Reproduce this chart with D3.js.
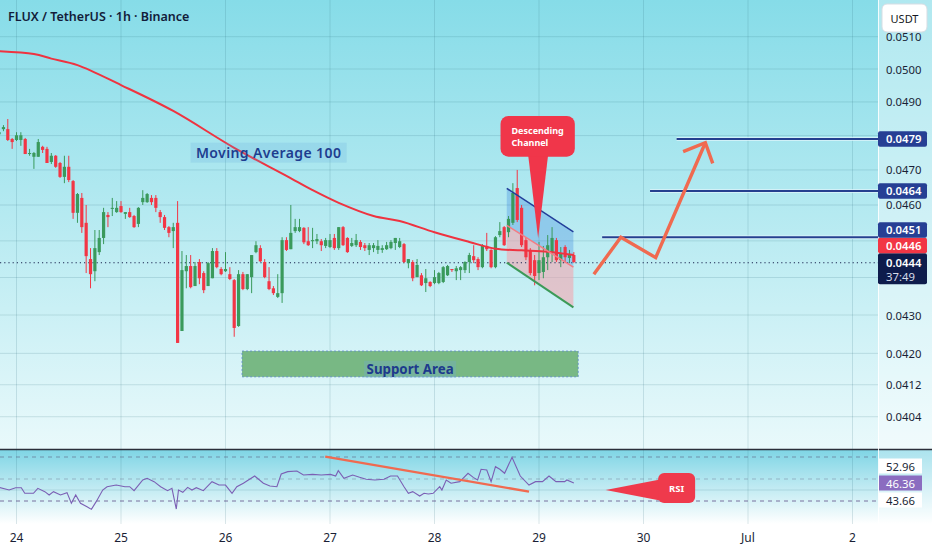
<!DOCTYPE html>
<html><head><meta charset="utf-8">
<script src="https://cdn.jsdelivr.net/npm/d3@7"></script>
<style>html,body{margin:0;padding:0;background:#fff;overflow:hidden}svg{display:block;font-family:"Noto Sans",Roboto,sans-serif}</style>
</head><body><svg id="c" width="932" height="550"></svg>
<script>
// ---------- DATA ----------
const title = "FLUX / TetherUS · 1h · Binance";
const currency = "USDT";
const dayTicks = [0, 24, 48, 72, 96, 120, 144, 168, 192]; // hours since 24 Jun 00:00
const dayLabels = ["24", "25", "26", "27", "28", "29", "30", "Jul", "2"];
const priceTicks = [0.0510, 0.0500, 0.0490, 0.0480, 0.0470, 0.0460, 0.0450, 0.0440, 0.0430, 0.0420, 0.0412, 0.0404];
const firstCandleHour = -4;
// [open, high, low, close], hourly
const candles = [
[0.04804,0.04813,0.04801,0.04810],[0.04819,0.04831,0.04813,0.04825],[0.04819,0.04849,0.04784,0.04787],[0.04790,0.04793,0.04761,0.04781],
[0.04787,0.04810,0.04784,0.04801],[0.04787,0.04810,0.04770,0.04801],[0.04790,0.04793,0.04746,0.04746],[0.04746,0.04761,0.04741,0.04749],
[0.04738,0.04752,0.04703,0.04749],[0.04738,0.04790,0.04738,0.04781],[0.04767,0.04770,0.04749,0.04758],[0.04761,0.04767,0.04720,0.04720],
[0.04723,0.04749,0.04717,0.04741],[0.04741,0.04743,0.04706,0.04709],[0.04720,0.04723,0.04677,0.04680],[0.04680,0.04741,0.04662,0.04709],
[0.04709,0.04741,0.04665,0.04671],[0.04668,0.04671,0.04561,0.04578],[0.04578,0.04634,0.04550,0.04631],[0.04620,0.04634,0.04522,0.04538],
[0.04550,0.04600,0.04412,0.04458],[0.04450,0.04480,0.04371,0.04409],[0.04417,0.04530,0.04390,0.04480],[0.04469,0.04530,0.04461,0.04508],
[0.04508,0.04592,0.04491,0.04580],[0.04572,0.04580,0.04538,0.04566],[0.04589,0.04620,0.04569,0.04592],[0.04580,0.04611,0.04578,0.04592],
[0.04597,0.04611,0.04578,0.04580],[0.04575,0.04580,0.04561,0.04580],[0.04580,0.04592,0.04564,0.04566],[0.04569,0.04572,0.04536,0.04538],
[0.04547,0.04594,0.04538,0.04592],[0.04608,0.04642,0.04600,0.04620],[0.04608,0.04634,0.04606,0.04631],[0.04620,0.04628,0.04600,0.04608],
[0.04620,0.04628,0.04580,0.04592],[0.04580,0.04586,0.04550,0.04566],[0.04566,0.04572,0.04530,0.04536],[0.04538,0.04541,0.04510,0.04522],
[0.04527,0.04550,0.04480,0.04538],[0.04550,0.04611,0.04227,0.04227],[0.04258,0.04472,0.04258,0.04420],[0.04417,0.04461,0.04371,0.04431],
[0.04431,0.04461,0.04371,0.04374],[0.04377,0.04442,0.04377,0.04431],[0.04442,0.04450,0.04382,0.04398],[0.04412,0.04417,0.04358,0.04366],
[0.04377,0.04442,0.04377,0.04439],[0.04398,0.04480,0.04398,0.04472],[0.04472,0.04480,0.04425,0.04428],[0.04423,0.04428,0.04406,0.04409],
[0.04417,0.04469,0.04415,0.04423],[0.04409,0.04428,0.04393,0.04396],[0.04393,0.04396,0.04243,0.04266],[0.04271,0.04420,0.04269,0.04409],
[0.04409,0.04415,0.04366,0.04369],[0.04369,0.04409,0.04366,0.04409],[0.04401,0.04461,0.04358,0.04461],[0.04469,0.04499,0.04466,0.04488],
[0.04480,0.04488,0.04442,0.04444],[0.04442,0.04450,0.04398,0.04401],[0.04390,0.04428,0.04366,0.04369],[0.04371,0.04377,0.04353,0.04358],
[0.04348,0.04409,0.04345,0.04358],[0.04358,0.04510,0.04332,0.04502],[0.04502,0.04510,0.04472,0.04475],[0.04477,0.04600,0.04477,0.04522],
[0.04527,0.04561,0.04522,0.04538],[0.04527,0.04561,0.04524,0.04538],[0.04536,0.04538,0.04491,0.04496],[0.04499,0.04538,0.04486,0.04488],
[0.04499,0.04536,0.04480,0.04502],[0.04499,0.04519,0.04491,0.04505],[0.04499,0.04505,0.04472,0.04488],[0.04486,0.04508,0.04480,0.04502],
[0.04483,0.04519,0.04480,0.04502],[0.04508,0.04519,0.04475,0.04480],[0.04480,0.04538,0.04475,0.04538],[0.04538,0.04541,0.04486,0.04488],
[0.04508,0.04510,0.04467,0.04469],[0.04486,0.04508,0.04483,0.04494],[0.04488,0.04519,0.04483,0.04502],[0.04497,0.04502,0.04475,0.04483],
[0.04488,0.04494,0.04472,0.04480],[0.04475,0.04494,0.04461,0.04488],[0.04480,0.04494,0.04469,0.04488],[0.04475,0.04502,0.04464,0.04486],
[0.04475,0.04488,0.04467,0.04480],[0.04477,0.04497,0.04475,0.04488],[0.04480,0.04502,0.04477,0.04497],[0.04494,0.04508,0.04475,0.04508],
[0.04483,0.04508,0.04480,0.04499],[0.04491,0.04494,0.04439,0.04442],[0.04439,0.04450,0.04425,0.04450],[0.04442,0.04447,0.04390,0.04398],
[0.04401,0.04450,0.04401,0.04434],[0.04406,0.04412,0.04377,0.04379],[0.04385,0.04423,0.04361,0.04398],[0.04388,0.04390,0.04374,0.04377],
[0.04385,0.04420,0.04382,0.04401],[0.04385,0.04415,0.04382,0.04412],[0.04388,0.04431,0.04385,0.04428],[0.04406,0.04434,0.04404,0.04431],
[0.04423,0.04423,0.04415,0.04420],[0.04417,0.04431,0.04393,0.04425],[0.04420,0.04431,0.04393,0.04428],[0.04420,0.04444,0.04412,0.04442],
[0.04442,0.04467,0.04412,0.04461],[0.04458,0.04488,0.04439,0.04447],[0.04450,0.04455,0.04420,0.04428],[0.04428,0.04491,0.04425,0.04488],
[0.04486,0.04522,0.04472,0.04477],[0.04475,0.04477,0.04425,0.04428],[0.04428,0.04513,0.04425,0.04510],[0.04516,0.04552,0.04510,0.04527],
[0.04538,0.04541,0.04486,0.04488],[0.04524,0.04569,0.04510,0.04561],[0.04550,0.04662,0.04544,0.04634],[0.04648,0.04700,0.04552,0.04558],
[0.04592,0.04600,0.04483,0.04488],[0.04502,0.04510,0.04447,0.04455],[0.04475,0.04480,0.04406,0.04412],[0.04447,0.04461,0.04379,0.04404],
[0.04412,0.04497,0.04393,0.04447],[0.04415,0.04486,0.04398,0.04455],[0.04455,0.04516,0.04420,0.04488],[0.04469,0.04538,0.04442,0.04508],
[0.04502,0.04508,0.04442,0.04447],[0.04447,0.04483,0.04428,0.04466],[0.04483,0.04488,0.04439,0.04455],[0.04453,0.04475,0.04439,0.04464],
[0.04461,0.04469,0.04439,0.04442]
];
// Moving Average 100 (read at sample hours)
const maHours  = [-4, 4, 8, 14, 24, 36, 50, 62, 68, 74, 82, 88, 96, 104, 110, 116, 122, 128];
const maValues = [0.05055,0.05046,0.05032,0.05012,0.04951,0.04873,0.04764,0.04683,0.04642,0.04606,0.04569,0.04555,0.04524,0.04497,0.04478,0.04474,0.04470,0.04461];
// RSI (read at vertices)
const rsiHours = [-4,-1.7,-0.2,1.1,1.9,3.9,4.9,6.5,7.5,8.5,10.1,11.6,12.6,13.6,14.7,16.2,17.2,18.3,19.8,20.8,22.9,24.9,26,27,29,30,31.6,33.1,34.7,35.7,36.7,37.2,38.2,39.3,40.3,41.3,42.9,44.9,46.5,48,49.5,50.6,52.1,54.7,56.7,58.2,59.8,60.8,62.3,64.4,65.9,68,70,72.1,73.3,73.9,75.2,77.2,78.8,80.3,82.3,84.4,85.9,87.5,89,90,91,92.6,93.6,94.6,95.7,97.2,97.7,98.7,99.8,101.8,103.7,104.9,105.9,106.7,108,109,110,111,112.1,113.8,115.7,117.7,119.2,120.8,122.3,123.9,125.9,126.4,128];
const rsiValues = [42.4,40.0,42.1,42.1,37.0,37.0,41.5,38.5,35.5,38.5,35.5,37.6,27.9,35.5,27.9,24.8,22.4,29.4,40.0,43.0,44.5,43.0,43.0,39.4,49.1,50.6,47.6,43.0,39.4,41.5,22.7,40.0,37.9,42.4,40.0,42.1,39.4,47.6,44.5,44.5,37.0,43.0,46.1,52.7,46.1,43.6,43.0,54.5,56.7,57.3,53.6,54.2,53.6,54.2,52.7,57.6,50.6,53.6,51.5,49.7,49.1,49.7,52.7,52.7,43.0,37.0,38.5,34.5,37.0,36.4,37.0,43.0,40.0,49.1,46.1,47.6,55.2,51.5,49.1,58.8,58.2,47.6,61.2,58.8,55.2,69.7,52.7,44.5,47.6,47.6,52.7,47.6,47.6,49.1,46.36];
const rsiBands = [70, 50, 30];
const rsiSideLabels = ["52.96", "46.36", "43.66"];
const rsiLast = 46.36;
const rsiTrend = [[70.9, 70.3], [117.7, 38.5]];
const rsiCallout = {hour: 135.3, value: 40, text: "RSI"};
// annotations (hour, price)
const targetLevels = [0.0479, 0.0464, 0.0451];
const targetStartHours = [151.6, 145.5, 134.5];
const arrowPath = [[132.6, 0.04409], [138.8, 0.04510], [146.8, 0.04454], [158.2, 0.04779]];
const arrowHead = [[153.1, 0.04753], [158.2, 0.04779], [159.9, 0.04719]];
const channelTop = [[112.6, 0.04647], [127.9, 0.04525]];
const channelMid = [[112.6, 0.04543], [127.9, 0.04428]];
const channelBot = [[112.6, 0.04440], [127.9, 0.04320]];
const channelCallout = {hour: 119.8, price: 0.04507, lines: ["Descending", "Channel"]};
const supportZone = {from: 51.8, to: 129, top: 0.04206, bottom: 0.04140, label: "Support Area"};
const maLabel = {hour: 57.9, price: 0.04750, text: "Moving Average 100"};
const lastPrice = 0.0444, maLast = 0.0446, countdown = "37:49";

// ---------- LAYOUT ----------
const W = 932, H = 550, plotR = 878, mainB = 449, rsiT = 450, rsiB = 524;
const svg = d3.select("#c");
const x = d3.scaleLinear().domain([0, 24]).range([16.5, 121]);
const y = d3.scaleLog().domain([0.0500, 0.0430]).range([69, 315]);
const yr = d3.scaleLinear().domain([30, 70]).range([501, 457]);
const fmt = d3.format(".4f");

const defs = svg.append("defs");
const g1 = defs.append("linearGradient").attr("id", "bgMain").attr("x1", 0).attr("y1", 0).attr("x2", 0).attr("y2", 1);
g1.append("stop").attr("offset", "0%").attr("stop-color", "#86dce8");
g1.append("stop").attr("offset", "100%").attr("stop-color", "#e9f9fb");
const g2 = defs.append("linearGradient").attr("id", "bgRsi").attr("x1", 0).attr("y1", 0).attr("x2", 0).attr("y2", 1);
g2.append("stop").attr("offset", "0%").attr("stop-color", "#7fd5e5");
g2.append("stop").attr("offset", "100%").attr("stop-color", "#ffffff");
defs.append("clipPath").attr("id", "clipMain").append("rect").attr("x", 0).attr("y", 0).attr("width", plotR).attr("height", mainB);
defs.append("clipPath").attr("id", "clipRsi").append("rect").attr("x", 0).attr("y", rsiT).attr("width", plotR).attr("height", rsiB - rsiT);

svg.append("rect").attr("width", W).attr("height", H).attr("fill", "#fff");
svg.append("rect").attr("x", 0).attr("y", 0).attr("width", W).attr("height", mainB).attr("fill", "url(#bgMain)");
svg.append("rect").attr("x", 0).attr("y", rsiT).attr("width", W).attr("height", rsiB - rsiT).attr("fill", "url(#bgRsi)");
svg.append("rect").attr("x", plotR).attr("y", 0).attr("width", W - plotR).attr("height", rsiB).attr("fill", "#fff").attr("opacity", 0.35);

// grid
const grid = svg.append("g").attr("stroke", "rgba(40,100,120,0.16)").attr("stroke-width", 1);
priceTicks.forEach(p => grid.append("line").attr("x1", 0).attr("x2", plotR).attr("y1", y(p)).attr("y2", y(p)));
dayTicks.forEach(h => grid.append("line").attr("x1", x(h)).attr("x2", x(h)).attr("y1", 0).attr("y2", rsiB));
grid.append("line").attr("x1", 0).attr("x2", plotR).attr("y1", yr(40)).attr("y2", yr(40));

const main = svg.append("g").attr("clip-path", "url(#clipMain)");

// support zone
const sz = main.append("g");
sz.append("rect").attr("x", x(supportZone.from)).attr("y", y(supportZone.top))
  .attr("width", x(supportZone.to) - x(supportZone.from)).attr("height", y(supportZone.bottom) - y(supportZone.top))
  .attr("fill", "#78b884").attr("stroke", "#5b86c9").attr("stroke-dasharray", "2,2").attr("stroke-width", 0.8);
const szc = (x(supportZone.from) + x(supportZone.to)) / 2;
sz.append("rect").attr("x", szc - 46).attr("y", y(supportZone.bottom) - 16).attr("width", 92).attr("height", 17).attr("fill", "rgba(110,170,220,0.28)");
sz.append("text").attr("x", szc).attr("y", y(supportZone.bottom) - 2.5).attr("text-anchor", "middle")
  .attr("font-size", 13.3).attr("font-weight", 700).attr("fill", "#1d3a8c").text(supportZone.label);

// channel
const pt = d => [x(d[0]), y(d[1])];
const poly = pts => pts.map(pt).map(p => p.join(",")).join(" ");
main.append("polygon").attr("points", poly([channelTop[0], channelTop[1], channelMid[1], channelMid[0]])).attr("fill", "rgba(40,120,220,0.28)");
main.append("polygon").attr("points", poly([channelMid[0], channelMid[1], channelBot[1], channelBot[0]])).attr("fill", "rgba(246,160,170,0.55)");

// dotted last price line
main.append("line").attr("x1", 0).attr("x2", plotR).attr("y1", y(lastPrice)).attr("y2", y(lastPrice))
  .attr("stroke", "#1a2450").attr("stroke-width", 1.2).attr("stroke-dasharray", "1.2,3");

// candles
const up = "#3a9a5c", dn = "#f23645";
const cg = main.append("g");
candles.forEach((c, i) => {
  const h = firstCandleHour + i, cx = x(h);
  const [o, hi, lo, cl] = c;
  const col = cl >= o ? up : dn;
  cg.append("line").attr("x1", cx).attr("x2", cx).attr("y1", y(hi)).attr("y2", y(lo)).attr("stroke", col).attr("stroke-width", 1);
  const t = Math.min(y(o), y(cl)), b = Math.max(y(o), y(cl));
  cg.append("rect").attr("x", cx - 1.6).attr("y", t).attr("width", 3.2).attr("height", Math.max(1, b - t)).attr("fill", col);
});

// MA 100
const maPts = maHours.map((h, i) => [x(h), y(maValues[i])]);
main.append("path").attr("d", d3.line().curve(d3.curveCatmullRom)(maPts)).attr("fill", "none").attr("stroke", "#ef3340").attr("stroke-width", 2);

// MA label
const mlx = x(maLabel.hour), mly = y(maLabel.price);
main.append("rect").attr("x", mlx - 78).attr("y", mly - 10).attr("width", 156).attr("height", 20).attr("fill", "rgba(90,160,215,0.18)");
main.append("text").attr("x", mlx).attr("y", mly + 5.5).attr("text-anchor", "middle").attr("font-size", 14).attr("font-weight", 600)
  .attr("letter-spacing", 0.4).attr("fill", "#1e3d8f").text(maLabel.text);

// channel lines
const ln = (a, col, w) => main.append("line").attr("x1", x(a[0][0])).attr("y1", y(a[0][1])).attr("x2", x(a[1][0])).attr("y2", y(a[1][1])).attr("stroke", col).attr("stroke-width", w);
ln(channelTop, "#233f9a", 1.5);
ln(channelMid, "#f47c84", 1.5);
ln(channelBot, "#3c9a58", 2);

// target levels
targetLevels.forEach((p, i) => {
  main.append("line").attr("x1", x(targetStartHours[i])).attr("x2", plotR).attr("y1", y(p)).attr("y2", y(p))
    .attr("stroke", "#dff4fb").attr("stroke-width", 3.5);
  main.append("line").attr("x1", x(targetStartHours[i])).attr("x2", plotR).attr("y1", y(p)).attr("y2", y(p))
    .attr("stroke", "#24408f").attr("stroke-width", 2);
});

// forecast arrow
const arrowCol = "#f06a50";
main.append("path").attr("d", d3.line()(arrowPath.map(pt))).attr("fill", "none").attr("stroke", arrowCol).attr("stroke-width", 3.4).attr("stroke-linejoin", "miter");
main.append("path").attr("d", d3.line()(arrowHead.map(pt))).attr("fill", "none").attr("stroke", arrowCol).attr("stroke-width", 3.4).attr("stroke-linejoin", "miter");

// Descending channel callout
const tipX = x(channelCallout.hour), tipY = y(channelCallout.price);
const bx = tipX - 37.6, by = tipY - 122.3, bw = 74.3, bh = 40.7;
main.append("path").attr("d", `M${tipX - 10},${by + bh - 2} L${tipX},${tipY} L${tipX + 10},${by + bh - 2} Z`).attr("fill", "#f0364a");
main.append("rect").attr("x", bx).attr("y", by).attr("width", bw).attr("height", bh).attr("rx", 8).attr("fill", "#f0364a");
channelCallout.lines.forEach((t, i) => main.append("text").attr("x", bx + 11).attr("y", by + 17.5 + i * 12.6)
  .attr("font-size", 9).attr("font-weight", 700).attr("fill", "#fff").text(t));

// title
svg.append("text").attr("x", 8).attr("y", 21).attr("font-size", 12.5).attr("font-weight", 600).attr("fill", "#131c3a").text(title);

// ---------- RSI pane ----------
const rsi = svg.append("g").attr("clip-path", "url(#clipRsi)");
rsiBands.forEach((b, i) => rsi.append("line").attr("x1", 0).attr("x2", W).attr("y1", yr(b)).attr("y2", yr(b))
  .attr("stroke", i === 1 ? "rgba(90,90,120,0.35)" : (i === 2 ? "rgba(90,70,130,0.75)" : "rgba(90,90,120,0.55)"))
  .attr("stroke-width", 1).attr("stroke-dasharray", "4,4"));
const rsiPts = rsiHours.map((h, i) => [x(h), yr(rsiValues[i])]);
rsi.append("path").attr("d", d3.line()(rsiPts)).attr("fill", "none").attr("stroke", "#7b5fb4").attr("stroke-width", 1.1);
rsi.append("line").attr("x1", x(rsiTrend[0][0])).attr("y1", yr(rsiTrend[0][1])).attr("x2", x(rsiTrend[1][0])).attr("y2", yr(rsiTrend[1][1]))
  .attr("stroke", arrowCol).attr("stroke-width", 2.4);
const rtx = x(rsiCallout.hour), rty = yr(rsiCallout.value);
rsi.append("path").attr("d", `M${rtx},${rty} L${rtx + 57},${rty - 11} L${rtx + 57},${rty + 11} Z`).attr("fill", "#ef3a4c");
rsi.append("rect").attr("x", rtx + 52.5).attr("y", rty - 17).attr("width", 37).attr("height", 30).attr("rx", 6).attr("fill", "#ef3a4c");
rsi.append("text").attr("x", rtx + 71).attr("y", rty + 1.5).attr("text-anchor", "middle").attr("font-size", 9.5).attr("font-weight", 700)
  .attr("fill", "#fff").text(rsiCallout.text);

// separators
svg.append("line").attr("x1", 0).attr("x2", W).attr("y1", mainB + 0.5).attr("y2", mainB + 0.5).attr("stroke", "#2a2e39").attr("stroke-width", 1.4);
svg.append("line").attr("x1", plotR + 0.5).attr("x2", plotR + 0.5).attr("y1", 0).attr("y2", rsiB).attr("stroke", "rgba(255,255,255,0.85)").attr("stroke-width", 1);

// ---------- price axis ----------
const boxes = [
  {v: targetLevels[0], fill: "#263f94", h: 15.5, off: 7.75},
  {v: targetLevels[1], fill: "#263f94", h: 15.5, off: 7.75},
  {v: targetLevels[2], fill: "#263f94", h: 15.5, off: 7.75},
  {v: maLast, fill: "#f23645", h: 15.5, off: 7.75},
  {v: lastPrice, fill: "#0e1c4c", h: 31, off: 9.5, sub: countdown}
];
boxes.forEach(b => { b.top = y(b.v) - b.off; });
boxes.sort((a, b) => b.top - a.top);
for (let i = 1; i < boxes.length; i++) {
  const prevTop = boxes[i - 1].top;
  if (boxes[i].top + boxes[i].h > prevTop) boxes[i].top = prevTop - boxes[i].h;
}

// tick labels (hidden where a price box covers them)
const ax = svg.append("g").attr("font-size", 11.3).attr("fill", "#1a1f36");
priceTicks.forEach(p => {
  const ty = y(p);
  const covered = boxes.some(b => ty > b.top - 4 && ty < b.top + b.h + 2);
  if (!covered) ax.append("text").attr("x", 886).attr("y", ty).attr("dominant-baseline", "central").text(fmt(p));
});

boxes.forEach(b => {
  svg.append("rect").attr("x", plotR).attr("y", b.top).attr("width", 49).attr("height", b.h).attr("rx", 2).attr("fill", b.fill);
  svg.append("text").attr("x", 886).attr("y", b.top + (b.sub ? 9.5 : b.h / 2)).attr("dominant-baseline", "central")
    .attr("font-size", 11.3).attr("font-weight", 600).attr("fill", "#fff").text(fmt(b.v));
  if (b.sub) svg.append("text").attr("x", 886).attr("y", b.top + 23).attr("dominant-baseline", "central")
    .attr("font-size", 11.3).attr("fill", "#d7dcea").text(b.sub);
});

// USDT box
svg.append("rect").attr("x", 882).attr("y", 4).attr("width", 45).attr("height", 28).attr("rx", 5).attr("fill", "#fff").attr("stroke", "#d6dde3");
svg.append("text").attr("x", 904.5).attr("y", 18.5).attr("text-anchor", "middle").attr("dominant-baseline", "central").attr("font-size", 11).attr("fill", "#131722").text(currency);

// RSI side labels
const ry = yr(rsiLast);
rsiSideLabels.forEach((t, i) => {
  const cy = ry + (i - 1) * 17;
  const isMain = i === 1;
  svg.append("rect").attr("x", plotR + 1).attr("y", cy - 7.5).attr("width", 43).attr("height", 15).attr("fill", isMain ? "#8b6cc0" : "#fff");
  svg.append("text").attr("x", 886).attr("y", cy).attr("dominant-baseline", "central").attr("font-size", 11.3)
    .attr("fill", isMain ? "#fff" : "#1a1f36").text(t);
});

// time axis
dayTicks.forEach((h, i) => svg.append("text").attr("x", x(h)).attr("y", 537).attr("text-anchor", "middle")
  .attr("dominant-baseline", "central").attr("font-size", 12).attr("fill", "#1a1f36").text(dayLabels[i]));
</script></body></html>
